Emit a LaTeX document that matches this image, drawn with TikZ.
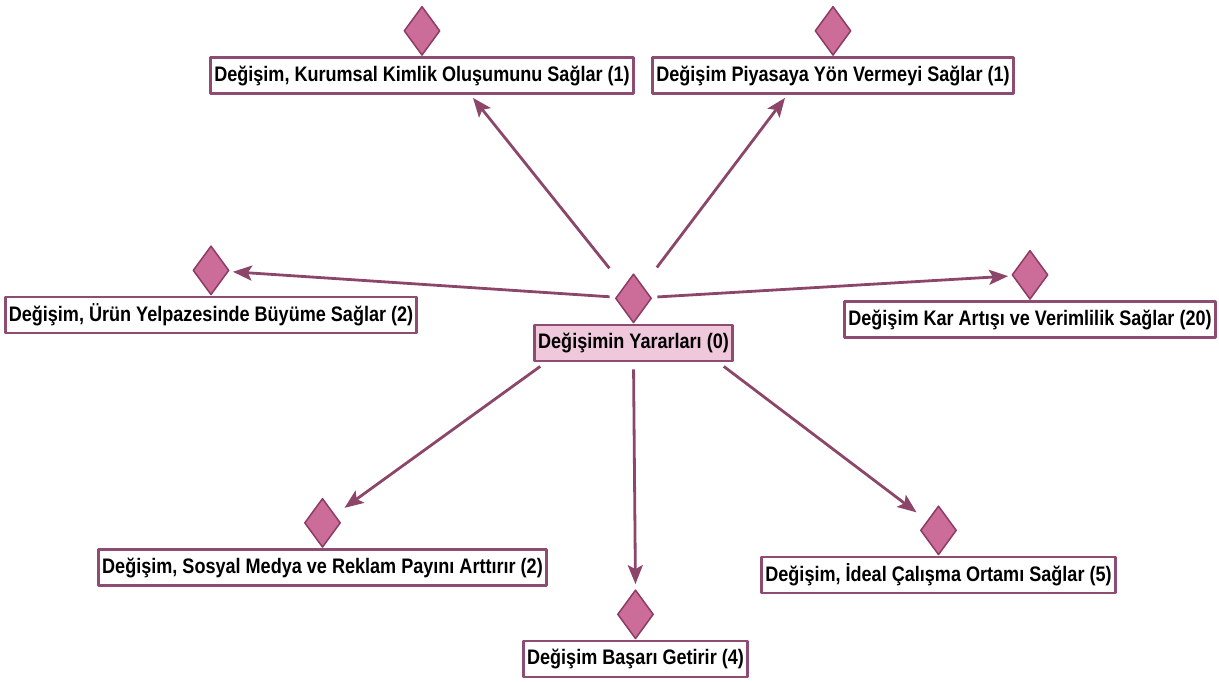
\documentclass[tikz,border=0pt]{standalone}
\usepackage{fontspec}
\newfontfamily\lblfont{Liberation Sans}[FakeStretch=0.86]
\usetikzlibrary{positioning,shapes.geometric,arrows.meta}
\definecolor{linecol}{HTML}{8C4669}
\definecolor{boxcol}{HTML}{8E4C72}
\definecolor{diafill}{HTML}{CC6C98}
\definecolor{diadraw}{HTML}{8C3C64}
\definecolor{rootfill}{HTML}{F0C8DC}
\begin{document}
\begin{tikzpicture}[x=1pt,y=-1pt, line join=round,
	box/.style={draw=boxcol, line width=2.8pt, fill=white, minimum height=36pt, inner xsep=3.5pt, inner ysep=0pt, font=\lblfont\bfseries\fontsize{21}{24}\selectfont},
	dia/.style={diamond, draw=diadraw, line width=1.5pt, fill=diafill, minimum width=36pt, minimum height=49pt, inner sep=0pt},
	arr/.style={draw=linecol, line width=2.8pt, -{Stealth[length=19pt,width=15pt,inset=4pt]}}]
	\useasboundingbox (0,0) rectangle (1219,681);
	% kök
	\node[box, fill=rootfill] (cbox) at (633.5,343) {Değişimin Yararları (0)};
	\node[dia, above=0pt of cbox] (cdia) {};
	% üst
	\node[box] (kbox) at (422,75.5) {Değişim, Kurumsal Kimlik Oluşumunu Sağlar (1)};
	\node[dia, above=0pt of kbox] (kdia) {};
	\node[box] (pbox) at (833,75.5) {Değişim Piyasaya Yön Vermeyi Sağlar (1)};
	\node[dia, above=0pt of pbox] (pdia) {};
	% yanlar
	\node[box] (ubox) at (211,315) {Değişim, Ürün Yelpazesinde Büyüme Sağlar (2)};
	\node[dia, above=0pt of ubox] (udia) {};
	\node[box] (vbox) at (1030,319.5) {Değişim Kar Artışı ve Verimlilik Sağlar (20)};
	\node[dia, above=0pt of vbox] (vdia) {};
	% alt
	\node[box] (sbox) at (322.5,567.5) {Değişim, Sosyal Medya ve Reklam Payını Arttırır (2)};
	\node[dia, above=0pt of sbox] (sdia) {};
	\node[box] (bbox) at (635.5,659) {Değişim Başarı Getirir (4)};
	\node[dia, above=0pt of bbox] (bdia) {};
	\node[box] (ibox) at (938.5,575) {Değişim, İdeal Çalışma Ortamı Sağlar (5)};
	\node[dia, above=0pt of ibox] (idia) {};
	% oklar
	\draw[arr, shorten <=23pt] (cdia) -- ([xshift=51pt,yshift=-3pt]kbox.south);
	\draw[arr, shorten <=23pt] (cdia) -- ([xshift=-48pt,yshift=-3pt]pbox.south);
	\draw[arr, shorten <=6pt, shorten >=4pt] (cdia) -- (udia);
	\draw[arr, shorten <=6pt, shorten >=4pt] (cdia) -- (vdia);
	\draw[arr] ([xshift=7pt,yshift=-4pt]cbox.south west) -- ([xshift=22pt,yshift=15pt]sdia.center);
	\draw[arr, shorten <=7pt, shorten >=5pt] (cbox.south) -- (bdia.north);
	\draw[arr] ([xshift=-10pt,yshift=-4pt]cbox.south east) -- ([xshift=-22pt,yshift=18pt]idia.center);
\end{tikzpicture}
\end{document}
